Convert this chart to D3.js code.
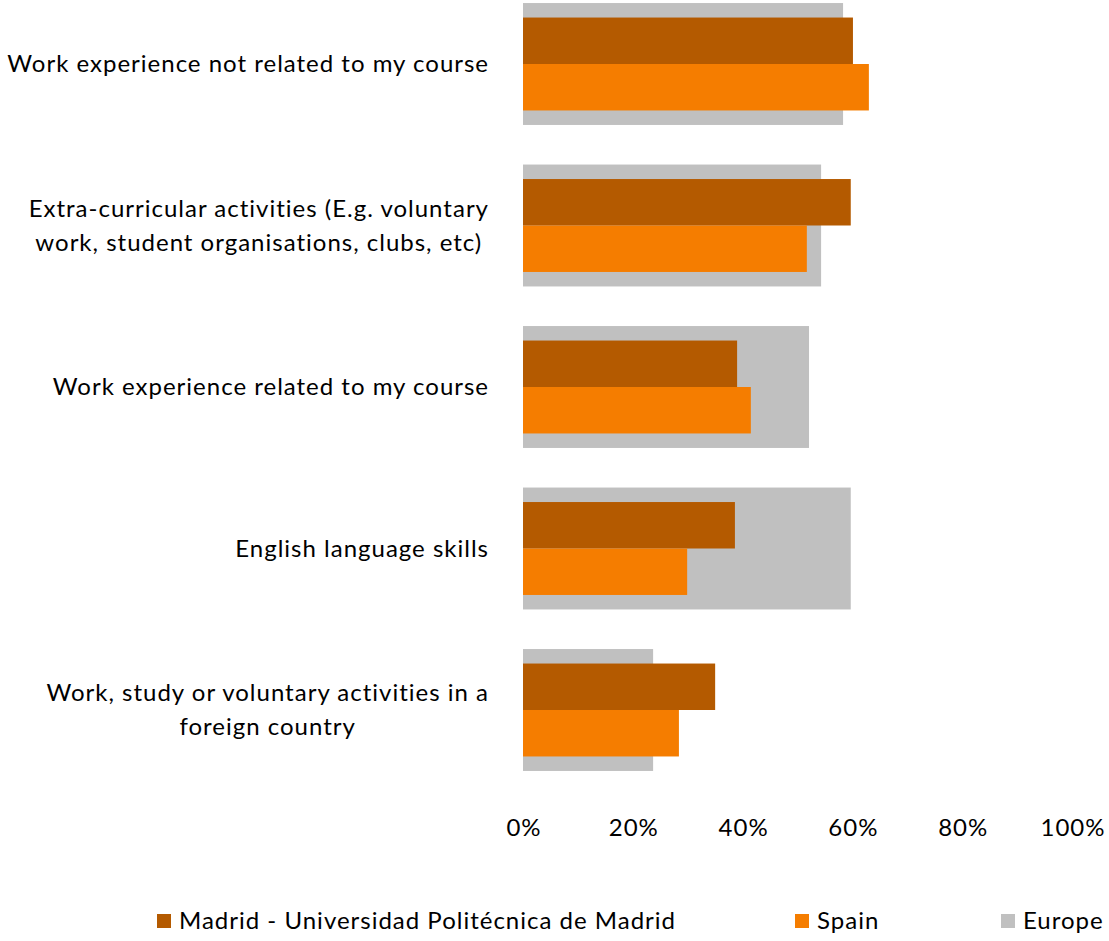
<!DOCTYPE html>
<html>
<head>
<meta charset="utf-8">
<script src="https://cdn.jsdelivr.net/npm/d3@7"></script>
<style>
  html, body { margin: 0; padding: 0; background: #fff; }
  svg { display: block; }
  text { font-family: Lato, "Open Sans", sans-serif; fill: #000; letter-spacing: 1px; }
</style>
</head>
<body>
<svg id="chart" width="1109" height="941"></svg>
<script>
// Categories (top to bottom); each label may span several lines
const categories = [
  ["Work experience not related to my course"],
  ["Extra-curricular activities (E.g. voluntary", "work, student organisations, clubs, etc)"],
  ["Work experience related to my course"],
  ["English language skills"],
  ["Work, study or voluntary activities in a", "foreign country"]
];

const seriesNames = ["Madrid - Universidad Politécnica de Madrid", "Spain", "Europe"];

// Share of respondents (%)
const madrid = [60.1, 59.7, 39.0, 38.6, 35.0];
const spain  = [63.0, 51.7, 41.5, 29.9, 28.4];
const europe = [58.3, 54.3, 52.1, 59.7, 23.7];

const xTicks = [0, 20, 40, 60, 80, 100];

const colors = { madrid: "#B45A00", spain: "#F57D00", europe: "#C0C0C0" };

const svg = d3.select("#chart");
const fontSize = 24;

const keys = categories.map(c => c.join(" "));

const x = d3.scaleLinear().domain([0, 100]).range([523, 1072]);

// Outer band: the wide grey Europe bar
const y = d3.scaleBand()
  .domain(keys)
  .range([-16.75, 790.75])
  .paddingInner(0.245)
  .paddingOuter(0.1225);

// Inner band: Madrid and Spain bars sit inside the Europe bar
const yInner = d3.scaleBand()
  .domain(["madrid", "spain"])
  .range([0, y.bandwidth()])
  .paddingInner(0)
  .paddingOuter(0.312);

const rows = keys.map((k, i) => ({
  key: k, lines: categories[i],
  madrid: madrid[i], spain: spain[i], europe: europe[i]
}));

const g = svg.append("g");

g.selectAll("rect.europe").data(rows).join("rect")
  .attr("class", "europe")
  .attr("x", x(0))
  .attr("y", d => y(d.key))
  .attr("width", d => x(d.europe) - x(0))
  .attr("height", y.bandwidth())
  .attr("fill", colors.europe);

["madrid", "spain"].forEach(s => {
  g.selectAll("rect." + s).data(rows).join("rect")
    .attr("class", s)
    .attr("x", x(0))
    .attr("y", d => y(d.key) + yInner(s))
    .attr("width", d => x(d[s]) - x(0))
    .attr("height", yInner.bandwidth())
    .attr("fill", colors[s]);
});

// Category labels: block right-aligned to the axis, lines centred within the block
const labelRight = 489;
const lineH = 34;
rows.forEach(d => {
  const cy = y(d.key) + y.bandwidth() / 2;
  const t = svg.append("text")
    .attr("font-size", fontSize)
    .attr("text-anchor", "middle");
  const n = d.lines.length;
  const tsp = d.lines.map((line, j) => t.append("tspan")
    .attr("y", cy + (j - (n - 1) / 2) * lineH)
    .attr("dy", "0.35em")
    .text(line));
  const w = d3.max(tsp, s => s.node().getComputedTextLength());
  tsp.forEach(s => s.attr("x", labelRight - w / 2));
});

// X axis (tick labels only)
const xAxis = d3.axisBottom(x)
  .tickValues(xTicks)
  .tickFormat(v => v + "%")
  .tickSize(0)
  .tickPadding(0);

const ax = svg.append("g")
  .attr("transform", "translate(0.5,828)")
  .call(xAxis);
ax.select(".domain").remove();
ax.selectAll("text")
  .attr("font-size", fontSize)
  .attr("font-family", "Lato, 'Open Sans', sans-serif")
  .attr("fill", "#000")
  .attr("dy", "0.35em");

// Legend
const legendItems = [
  { name: seriesNames[0], color: colors.madrid, x: 157 },
  { name: seriesNames[1], color: colors.spain, x: 795 },
  { name: seriesNames[2], color: colors.europe, x: 1001 }
];
const lg = svg.append("g");
legendItems.forEach(it => {
  lg.append("rect")
    .attr("x", it.x).attr("y", 914)
    .attr("width", 14).attr("height", 14)
    .attr("fill", it.color);
  lg.append("text")
    .attr("x", it.x + 22).attr("y", 921)
    .attr("dy", "0.35em")
    .attr("font-size", fontSize)
    .text(it.name);
});
</script>
</body>
</html>
